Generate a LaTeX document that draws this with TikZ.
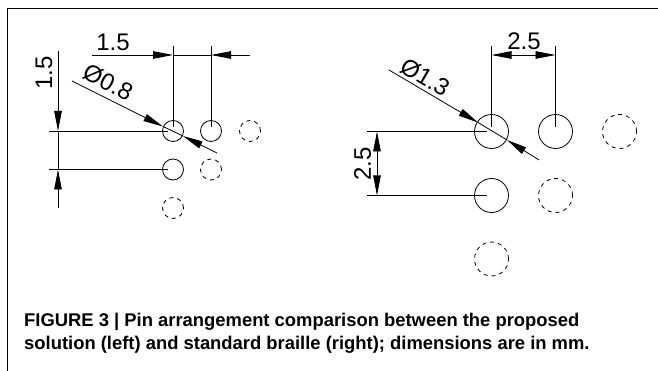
\documentclass[tikz,border=0pt]{standalone}
\usepackage{fontspec}
\setmainfont{Liberation Sans}
\usetikzlibrary{arrows.meta}
\tikzset{dim/.style = {line width = 0.8pt, -{Triangle[length=20pt, width=7.5pt]}}}
\tikzset{thin line/.style = {line width = 0.8pt}}
\tikzset{dot/.style = {draw, circle, line width = 0.8pt, inner sep = 0}}
\tikzset{ghost/.style = {dot, dash pattern = on 4pt off 4pt}}
\tikzset{small/.style = {minimum size = 21pt}}
\tikzset{large/.style = {minimum size = 34pt}}
\tikzset{label text/.style = {font = \fontsize{24}{24}\selectfont, inner sep = 0}}
\tikzset{caption/.style = {font = \fontsize{18.4}{23}\selectfont\bfseries, align = left, anchor = north west, inner sep = 0}}

\begin{document}
\begin{tikzpicture}[x=1pt, y=-1pt]
      \useasboundingbox (0, 0) rectangle (658, 371);
      \draw [line width = 1pt] (7, 371) -- (7, 9) -- (658, 9);

      % left pins
      \node [dot, small] (a1) at (173, 131) {};
      \node [dot, small] (a2) at (211, 131) {};
      \node [ghost, small] (a3) at (250, 131) {};
      \node [dot, small] (a4) at (173, 169.5) {};
      \node [ghost, small] (a5) at (211, 169.5) {};
      \node [ghost, small] (a6) at (173, 208) {};

      \draw [thin line] (173, 46) -- (173, 127);
      \draw [thin line] (211, 46) -- (211, 127);
      \draw [thin line] (49, 131) -- (168, 131);
      \draw [thin line] (49, 169.5) -- (168, 169.5);

      \draw [thin line] (173, 55) -- (211, 55);
      \draw [thin line] (58, 131) -- (58, 169.5);
      \draw [thin line] (163, 126.5) -- (183, 136);
      \draw [dim] (92, 55) -- (173, 55);
      \draw [dim] (250, 55) -- (211, 55);
      \draw [dim] (58, 51) -- (58, 131);
      \draw [dim] (58, 208) -- (58, 169.5);
      \draw [dim] (72, 81) -- (163, 126.5);
      \draw [dim] (217, 153) -- (183, 136);

      \node [label text] (a1w) at (113, 42.5) {1.5};
      \node [label text, rotate = 90] (a1h) at (44, 73) {1.5};
      \node [label text, rotate = -27] (a1d) at (108, 82) {Ø0.8};

      % right pins
      \node [dot, large] (b1) at (491.5, 131.5) {};
      \node [dot, large] (b2) at (555.5, 131.5) {};
      \node [ghost, large] (b3) at (619.5, 131.5) {};
      \node [dot, large] (b4) at (491.5, 195.5) {};
      \node [ghost, large] (b5) at (555.5, 195.5) {};
      \node [ghost, large] (b6) at (491.5, 259) {};

      \draw [thin line] (491.5, 46) -- (491.5, 127);
      \draw [thin line] (555.5, 46) -- (555.5, 127);
      \draw [thin line] (367, 131.5) -- (487, 131.5);
      \draw [thin line] (367, 195.5) -- (487, 195.5);

      \draw [dim] (523.5, 55) -- (491.5, 55);
      \draw [dim] (523.5, 55) -- (555.5, 55);
      \draw [dim] (377, 163.5) -- (377, 131.5);
      \draw [dim] (377, 163.5) -- (377, 195.5);
      \draw [thin line] (478, 122.5) -- (507, 140);
      \draw [dim] (389, 70) -- (478, 122.5);
      \draw [dim] (539, 160) -- (507, 140);

      \node [label text] (b1w) at (524, 41.5) {2.5};
      \node [label text, rotate = 90] (b1h) at (362.5, 164) {2.5};
      \node [label text, rotate = -30] (b1d) at (425, 77) {Ø1.3};

      \node [caption] (cap) at (24, 313) {FIGURE 3 | Pin arrangement comparison between the proposed\\solution (left) and standard braille (right); dimensions are in mm.};
    \end{tikzpicture}
\end{document}
